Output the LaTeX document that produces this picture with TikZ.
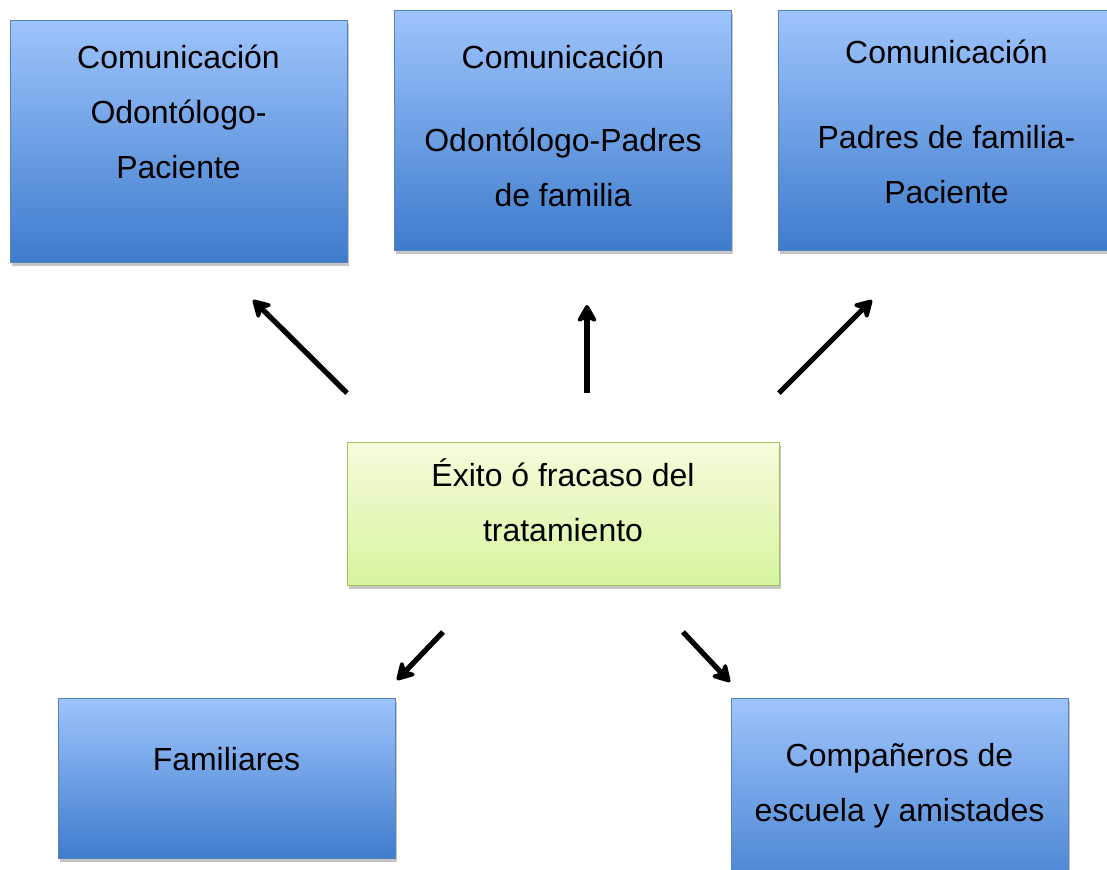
\documentclass[tikz,border=0pt]{standalone}
\usepackage{fontspec}
\setmainfont{Liberation Sans}
\usetikzlibrary{arrows.meta,shadows}

\definecolor{boxtop}{RGB}{158,196,252}
\definecolor{boxbot}{RGB}{62,124,204}
\definecolor{boxline}{RGB}{86,130,190}
\definecolor{greentop}{RGB}{246,252,220}
\definecolor{greenbot}{RGB}{214,244,158}
\definecolor{greenline}{RGB}{160,194,96}

\begin{document}
\begin{tikzpicture}[x=0.02cm,y=-0.02cm,>={Stealth[round,length=0.42cm,width=0.48cm,inset=0.12cm]}]
	\tikzstyle{comm}=[draw=boxline,thin,top color=boxtop,bottom color=boxbot,minimum width=6.74cm,minimum height=4.84cm,drop shadow={shadow xshift=1pt,shadow yshift=-2.5pt,opacity=0.45}]
	\tikzstyle{result}=[draw=greenline,thin,top color=greentop,bottom color=greenbot,minimum width=8.64cm,minimum height=2.86cm,drop shadow={shadow xshift=1pt,shadow yshift=-2.5pt,opacity=0.45}]
	\tikzstyle{txt}=[align=center,font=\fontsize{18.2}{31.3}\selectfont]
	\tikzstyle{arr}=[->,line width=0.105cm]

	\useasboundingbox (0,0) rectangle (1107,870);

	% top row
	\node[comm] (odpac) at (178.5,141) {};
	\node[txt] (odpactxt) at (178.5,112) {Comunicación\\Odontólogo-\\Paciente};
	\node[comm,minimum height=4.8cm] (odpad) at (563,130) {};
	\node[txt] (odpadtxt) at (563,125.5) {Comunicación\\[0.56cm]Odontólogo-Padres\\de familia};
	\node[comm,minimum height=4.8cm] (padpac) at (946.5,130) {};
	\node[txt] (padpactxt) at (946.5,121.5) {Comunicación\\[0.6cm]Padres de familia-\\Paciente};

	% centre
	\node[result] (exito) at (563,513.5) {};
	\node[txt] (exitotxt) at (563,500.5) {Éxito ó fracaso del\\tratamiento};

	% bottom row
	\node[comm,minimum height=3.2cm] (fam) at (226.5,778) {};
	\node[txt] (famtxt) at (226.5,759) {Familiares};
	\node[comm,minimum height=4.2cm] (comp) at (899.5,803) {};
	\node[txt] (comptxt) at (899.5,786) {Compañeros de\\escuela y amistades};

	\coordinate (a1s) at (347,393);
	\coordinate (a1e) at (253,300);
	\coordinate (a2s) at (587,393);
	\coordinate (a2e) at (587,305);
	\coordinate (a3s) at (779,393);
	\coordinate (a3e) at (872,300);
	\coordinate (a4s) at (443,632);
	\coordinate (a4e) at (397,680);
	\coordinate (a5s) at (683,632);
	\coordinate (a5e) at (730,682);

	\draw[arr] (a1s) -- (a1e);
	\draw[arr] (a2s) -- (a2e);
	\draw[arr] (a3s) -- (a3e);
	\draw[arr] (a4s) -- (a4e);
	\draw[arr] (a5s) -- (a5e);
\end{tikzpicture}
\end{document}
